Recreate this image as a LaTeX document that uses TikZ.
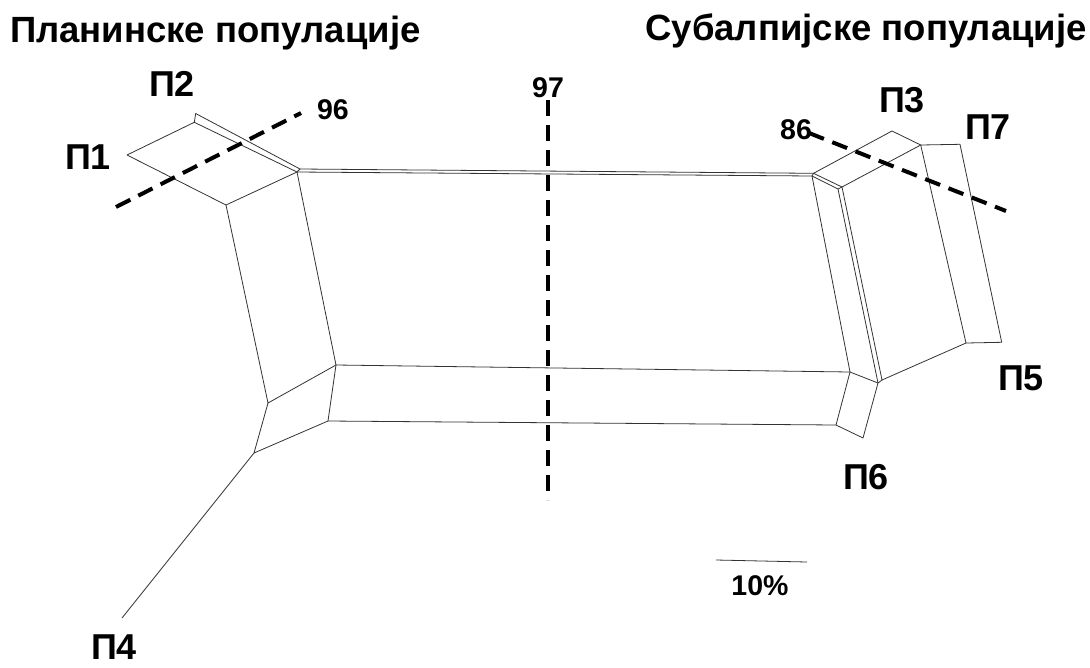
\documentclass[tikz,border=0pt]{standalone}
\usepackage{fontspec}
\setmainfont{Liberation Sans}
\begin{document}
\begin{tikzpicture}[x=1pt,y=-1pt,
  edge/.style={draw=black!80, line width=0.8pt, line join=round},
  cut/.style={draw=black, line width=4pt, dash pattern=on 16pt off 9pt},
  title/.style={font=\bfseries\fontsize{36.5}{42}\selectfont, inner sep=0},
  taxon/.style={font=\bfseries\fontsize{36}{40}\selectfont, inner sep=0},
  num/.style={font=\bfseries\fontsize{28.5}{33}\selectfont, inner sep=0}]
\useasboundingbox (0,0) rectangle (1090,667);

% network vertices (left part)
\coordinate (a1) at (127,155);
\coordinate (a2) at (194.3,122.3);
\coordinate (a2t) at (195.7,113.5);
\coordinate (a3) at (226,205);
\coordinate (a4) at (297,172);
\coordinate (a4t) at (300,169);
\coordinate (b1) at (336,365);
\coordinate (b2) at (268,403);
\coordinate (b3) at (328,421);
\coordinate (b4) at (254,453);
\coordinate (p4) at (122,618);
% network vertices (right part)
\coordinate (r1) at (812,176);
\coordinate (r1t) at (813.5,173.3);
\coordinate (r2) at (838,189);
\coordinate (r2t) at (842,187);
\coordinate (r3) at (878,383);
\coordinate (r3t) at (882,380);
\coordinate (c1) at (850,372);
\coordinate (c2) at (836,425);
\coordinate (c3) at (863,438);
\coordinate (d1) at (892,131);
\coordinate (d2) at (920.7,145);
\coordinate (d3) at (960,144.3);
\coordinate (d4) at (966,343);
\coordinate (d5) at (1001.7,342.3);

% left splits
\draw[edge] (a1) -- (a2) -- (a4) -- (a3) -- cycle;
\draw[edge] (a2) -- (a2t) -- (a4t) -- (a4);
\draw[edge] (a4) -- (b1) -- (b2) -- (a3);
\draw[edge] (b1) -- (b3) -- (b4) -- (b2);
\draw[edge] (b4) -- (p4);
% central box
\draw[edge] (a4t) -- (r1t);
\draw[edge] (a4) -- (r1);
\draw[edge] (b1) -- (c1);
\draw[edge] (b3) -- (c2);
\draw[edge] (r1) -- (c1);
% right splits
\draw[edge] (c1) -- (c2) -- (c3) -- (r3) -- cycle;
\draw[edge] (r1) -- (r1t);
\draw[edge] (r1) -- (r2) -- (r3);
\draw[edge] (r1t) -- (r2t) -- (r3t) -- (r3);
\draw[edge] (r2) -- (r2t);
\draw[edge] (r1t) -- (d1) -- (d2) -- (r2t);
\draw[edge] (d2) -- (d3) -- (d5) -- (d4) -- cycle;
\draw[edge] (r3t) -- (d4);

% split cuts
\coordinate (k96a) at (116,207);
\coordinate (k96b) at (301,113);
\coordinate (k97a) at (548,100);
\coordinate (k97b) at (548,500);
\coordinate (k86a) at (809,133);
\coordinate (k86b) at (1006,211);
\draw[cut] (k96a) -- (k96b);
\draw[cut] (k97a) -- (k97b);
\draw[cut] (k86a) -- (k86b);

% scale bar
\coordinate (s1) at (716,560);
\coordinate (s2) at (807,562);
\draw[edge] (s1) -- (s2);
\node[num] (scale) at (760,586) {10\%};

% labels
\node[title, anchor=base west] (tl) at (10,42) {Планинске популације};
\node[title, anchor=base east] (tr) at (1087,40) {Субалпијске популације};
\node[taxon] (n1) at (88,157) {П1};
\node[taxon] (n2) at (172,84) {П2};
\node[taxon] (n3) at (902,100) {П3};
\node[taxon] (n7) at (988,127) {П7};
\node[taxon] (n5) at (1021,378) {П5};
\node[taxon] (n6) at (866,477) {П6};
\node[taxon] (n4) at (114,647) {П4};
\node[num] (v96) at (333,110) {96};
\node[num] (v97) at (548,88) {97};
\node[num] (v86) at (796,130) {86};
\end{tikzpicture}
\end{document}
